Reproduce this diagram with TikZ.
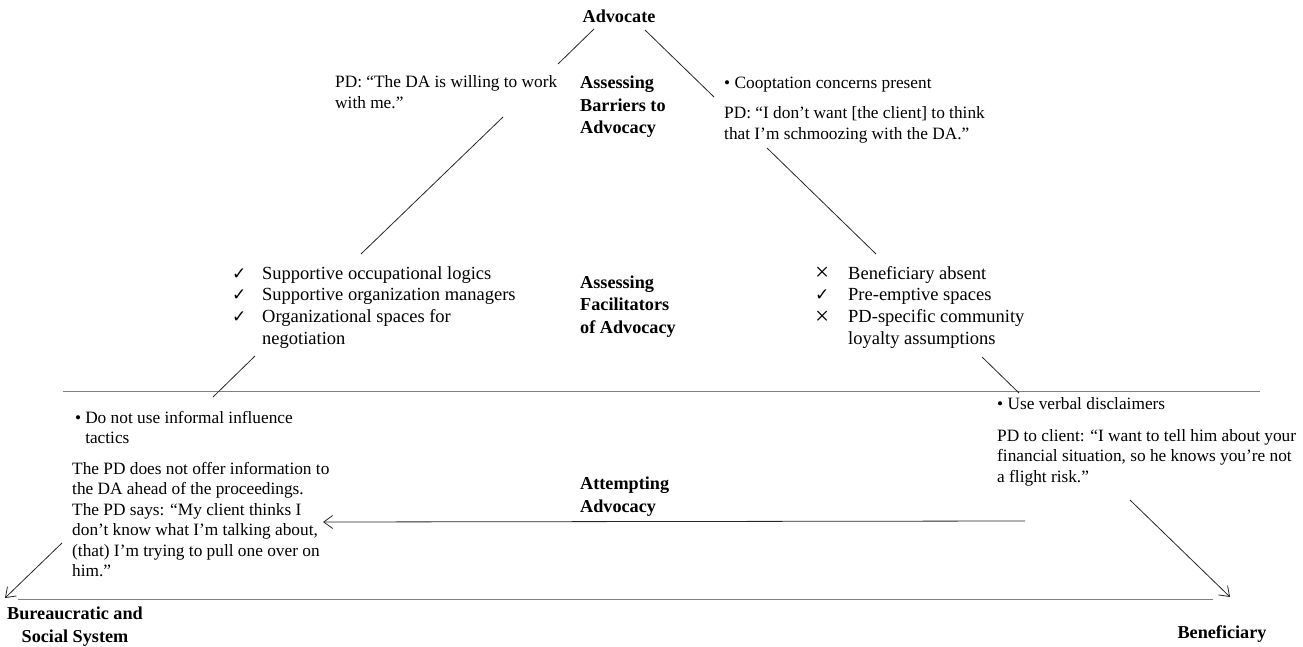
\documentclass[tikz,border=0pt]{standalone}
\usepackage{fontspec}
\setmainfont{Liberation Serif}
\newfontfamily\symfont{DejaVu Sans}
\usetikzlibrary{arrows.meta}

\newcommand{\cmark}{{\symfont\fontsize{17}{17}\selectfont ✓}}
\newcommand{\xmarkb}{\raisebox{-1.5pt}{\fontsize{25}{20}\selectfont ×}}

\begin{document}
\begin{tikzpicture}[x=1pt,y=-1pt,
  lbl/.style={font=\fontsize{18.2}{22.5}\selectfont\bfseries, inner sep=0pt, align=left},
  txt/.style={font=\fontsize{17.3}{20.5}\selectfont, inner sep=0pt, align=left},
  chk/.style={font=\fontsize{18.5}{21.7}\selectfont, inner sep=0pt},
  side/.style={draw=black!85, line width=0.8pt},
  sidearrow/.style={side, -{Straight Barb[length=9pt,width=13pt]}},
  rule/.style={draw=black!50, line width=0.9pt}]
\useasboundingbox (0,0) rectangle (1303,647);

% corner labels (base = baseline of the last line)
\node[lbl, anchor=base] (adv) at (619,23) {Advocate};
\node[lbl, anchor=base, align=center] (bsys) at (75,642) {Bureaucratic and\\Social System};
\node[lbl, anchor=base] (ben) at (1222,638) {Beneficiary};

% stage labels
\node[lbl, anchor=base west] (bar) at (580,134) {Assessing\\Barriers to\\Advocacy};
\node[lbl, anchor=base west] (fac) at (580,333) {Assessing\\Facilitators\\of Advocacy};
\node[lbl, anchor=base west] (att) at (580,512) {Attempting\\Advocacy};

% barriers
\node[txt, anchor=base west] (q1) at (335,108.5) {PD: “The DA is willing to work\\with me.”};
\node[txt, anchor=base west] (coop) at (724,89) {• Cooptation concerns present};
\node[txt, anchor=base west] (q2) at (724,139.5) {PD: “I don’t want [the client] to think\\that I’m schmoozing with the DA.”};

% facilitators
\node[chk, anchor=base west] (fl) at (232,279) {%
  \begin{tabular}[t]{@{}p{30pt}@{}l@{}}
  \cmark & Supportive occupational logics\\[0.2pt]
  \cmark & Supportive organization managers\\[0.2pt]
  \cmark & Organizational spaces for\\[0.2pt]
         & negotiation
  \end{tabular}};
\node[chk, anchor=base west] (fr) at (815,279) {%
  \begin{tabular}[t]{@{}p{33pt}@{}l@{}}
  \xmarkb & Beneficiary absent\\[0.2pt]
  \cmark  & Pre-emptive spaces\\[0.2pt]
  \xmarkb & PD-specific community\\[0.2pt]
          & loyalty assumptions
  \end{tabular}};

% attempting advocacy
\node[txt, anchor=base west] (infl) at (75,443.5) {•\hspace{4pt}Do not use informal influence\\\phantom{•}\hspace{4pt}tactics};
\node[txt, anchor=base west] (pdq) at (72,576.5) {The PD does not offer information to\\the DA ahead of the proceedings.\\The PD says: “My client thinks I\\don’t know what I’m talking about,\\(that) I’m trying to pull one over on\\him.”};
\node[txt, anchor=base west] (verbal) at (997,409) {• Use verbal disclaimers};
\node[txt, anchor=base west] (pdc) at (997,482) {PD to client: “I want to tell him about your\\financial situation, so he knows you’re not\\a flight risk.”};

% horizontal rules
\draw[rule] (63,391) -- (1260,391);
\draw[rule] (18,599) -- (1213,599);

% left side of the triangle
\coordinate (l1a) at (594,29);  \coordinate (l1b) at (558,64);
\coordinate (l2a) at (503,117); \coordinate (l2b) at (361,254);
\coordinate (l3a) at (255,356); \coordinate (l3b) at (213,397);
\coordinate (l4a) at (62,543);  \coordinate (l4b) at (5,598);
\draw[side] (l1a) -- (l1b);
\draw[side] (l2a) -- (l2b);
\draw[side] (l3a) -- (l3b);
\draw[sidearrow] (l4a) -- (l4b);

% right side of the triangle
\coordinate (r1a) at (645,30);   \coordinate (r1b) at (714,97);
\coordinate (r2a) at (767,148);  \coordinate (r2b) at (876,254);
\coordinate (r3a) at (982,357);  \coordinate (r3b) at (1019,393);
\coordinate (r4a) at (1130,500); \coordinate (r4b) at (1230,597);
\draw[side] (r1a) -- (r1b);
\draw[side] (r2a) -- (r2b);
\draw[side] (r3a) -- (r3b);
\draw[sidearrow] (r4a) -- (r4b);

% attempt arrow
\coordinate (aa) at (1025,521);
\coordinate (ab) at (323,522);
\draw[sidearrow] (aa) -- (ab);
\end{tikzpicture}
\end{document}
